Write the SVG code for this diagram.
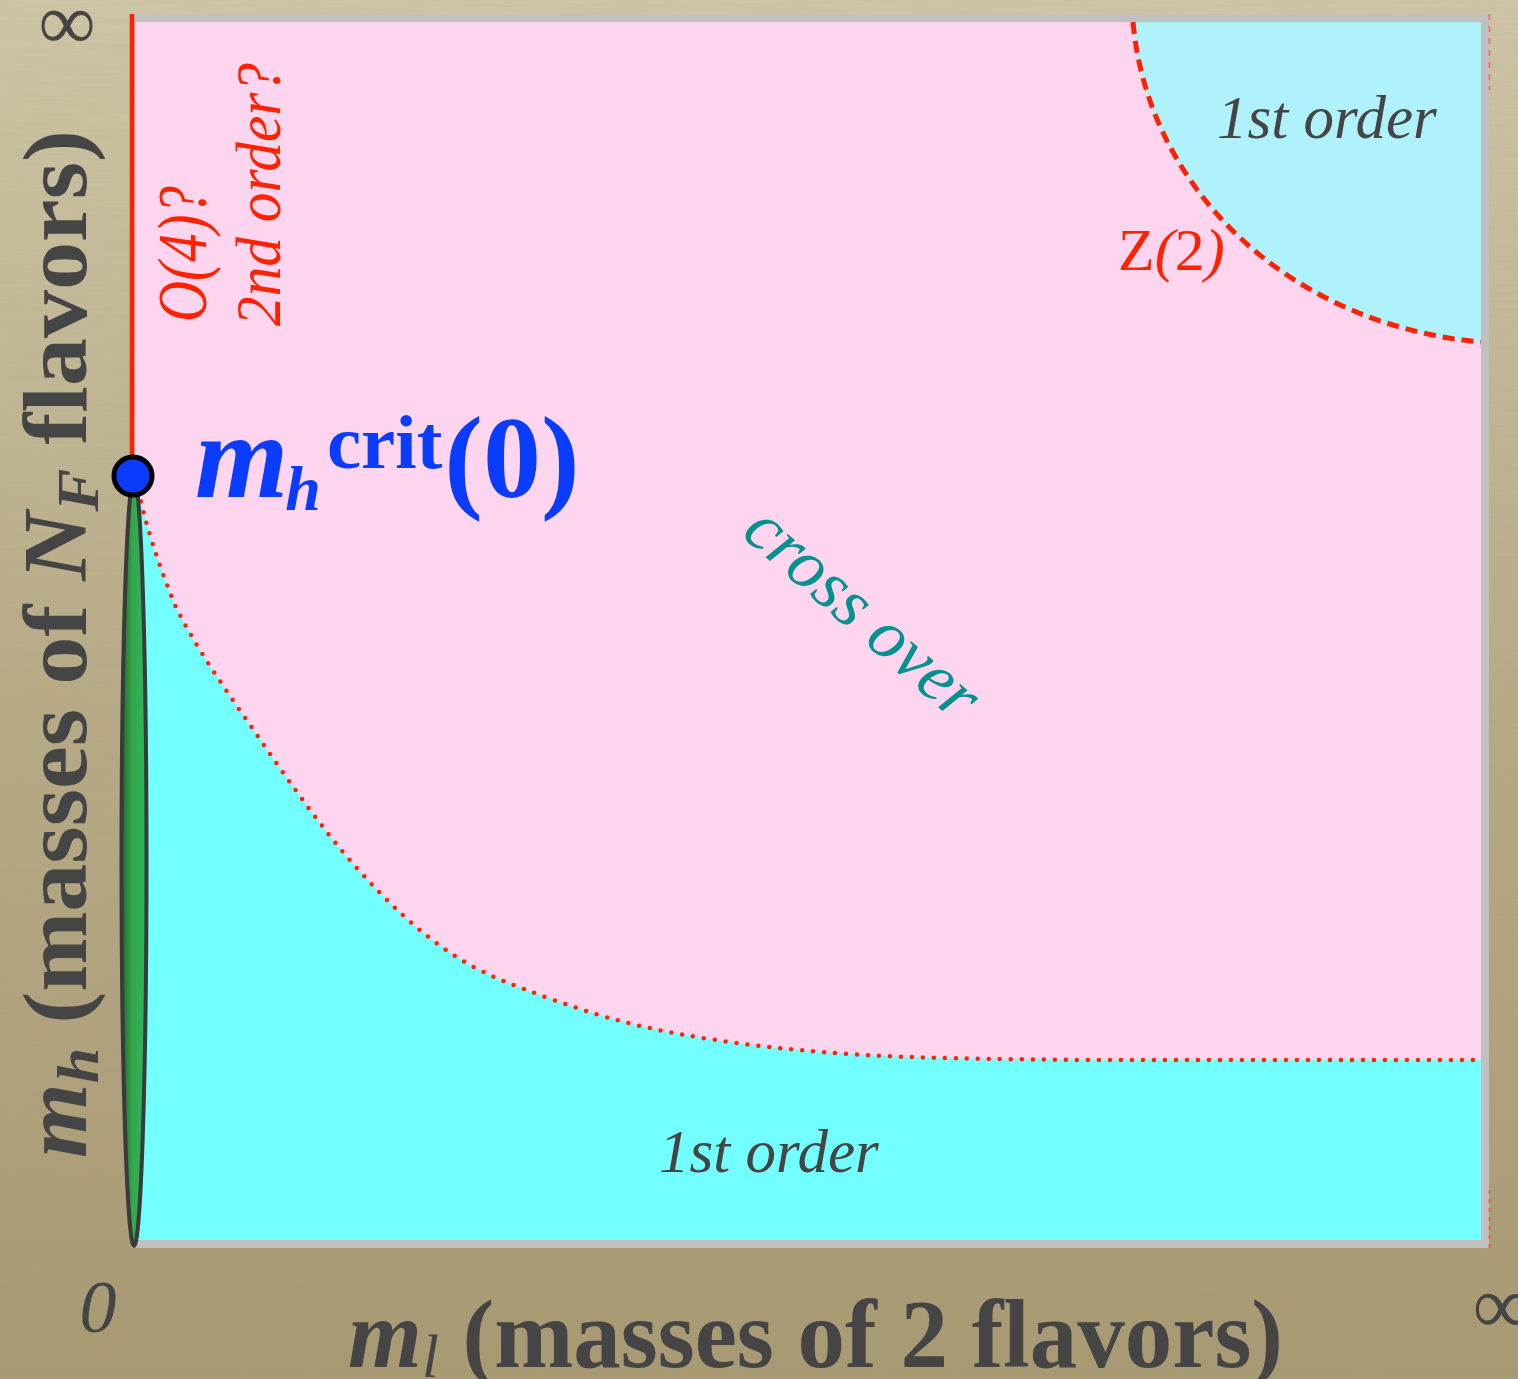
<svg xmlns="http://www.w3.org/2000/svg" width="1518" height="1379" viewBox="0 0 1518 1379">
  <defs>
    <linearGradient id="bg" x1="0" y1="0" x2="0" y2="1">
      <stop offset="0" stop-color="#d0c8a8"/>
      <stop offset="0.5" stop-color="#b9ac88"/>
      <stop offset="1" stop-color="#a89a72"/>
    </linearGradient>
    <linearGradient id="leaf" x1="0" y1="0" x2="1" y2="0">
      <stop offset="0" stop-color="#1d6b2a"/>
      <stop offset="0.45" stop-color="#35a84c"/>
      <stop offset="1" stop-color="#28b860"/>
    </linearGradient>
    <filter id="grain" x="0" y="0" width="100%" height="100%">
      <feTurbulence type="fractalNoise" baseFrequency="0.012 0.25" numOctaves="3" seed="4"/>
      <feColorMatrix type="matrix" values="0 0 0 0 0.35  0 0 0 0 0.3  0 0 0 0 0.2  0 0 0 0.35 0"/>
    </filter>
  </defs>
  <style>
    .serif { font-family: "Liberation Serif", "Times New Roman", serif; }
    .axis { fill: #454545; font-weight: bold; }
    .tick { fill: #454545; }
    .redlbl { fill: #ff2200; font-style: italic; }
    .order { fill: #454545; font-style: italic; font-size: 61px; }
    .dotted { fill: none; stroke: #ff2200; stroke-width: 4.5; stroke-linecap: round; stroke-dasharray: 0 11; }
    .dashed { fill: none; stroke: #ff2200; stroke-width: 5; stroke-dasharray: 12 7; }
  </style>

  <!-- background -->
  <rect x="0" y="0" width="1518" height="1379" fill="url(#bg)"/>
  <rect x="0" y="0" width="1518" height="1379" filter="url(#grain)" opacity="0.5"/>

  <!-- plot frame -->
  <g id="frame">
    <rect x="131" y="14" width="1358" height="1234" fill="#c0c0c0"/>
    <rect x="135" y="22" width="1346" height="1218" fill="#fdd5ef"/>
  </g>

  <!-- regions -->
  <g id="region-first-order-bottom">
    <path d="M137,480 C142,515 157,560 174,603 C194.3,646 228.8,694.2 259,738 C289.2,781.8 323.3,830.3 355,866 C386.7,901.7 416.3,929.8 449,952 C481.7,974.2 513.5,985.5 551,999 C588.5,1012.5 624.3,1023.8 674,1033 C723.7,1042.2 779.8,1049.5 849,1054 C918.2,1058.5 983.7,1059 1089,1060 L1481,1060 L1481,1240 L135,1240 Z" fill="#73ffff"/>
  </g>
  <g id="region-first-order-top">
    <path d="M1133,22 C1148,190 1290,325 1481,342 L1481,22 Z" fill="#b0f2fc"/>
  </g>

  <!-- boundary lines -->
  <g id="connectors">
    <path class="dotted" d="M137,480 C142,515 157,560 174,603 C194.3,646 228.8,694.2 259,738 C289.2,781.8 323.3,830.3 355,866 C386.7,901.7 416.3,929.8 449,952 C481.7,974.2 513.5,985.5 551,999 C588.5,1012.5 624.3,1023.8 674,1033 C723.7,1042.2 779.8,1049.5 849,1054 C918.2,1058.5 983.7,1059 1089,1060 L1481,1060"/>
    <path class="dashed" d="M1133,22 C1148,190 1290,325 1481,342"/>
    <line x1="132" y1="14" x2="132" y2="476" stroke="#ff2200" stroke-width="4.5"/>
    <line x1="1489.5" y1="14" x2="1489.5" y2="90" stroke="#ff3a1a" stroke-width="2" stroke-dasharray="6 6" opacity="0.5"/>
    <line x1="1489.5" y1="1190" x2="1489.5" y2="1248" stroke="#ff3a1a" stroke-width="2" stroke-dasharray="4 5" opacity="0.6"/>
  </g>

  <!-- green ellipse on the m_l = 0 axis -->
  <g id="chiral-line">
    <ellipse cx="134" cy="862" rx="12.5" ry="384" fill="url(#leaf)" stroke="#3a3a3a" stroke-width="4"/>
  </g>

  <!-- critical point -->
  <g id="critical-point">
    <circle cx="133" cy="476" r="19" fill="#0a3cff" stroke="#000" stroke-width="5"/>
    <text class="serif" x="195" y="497" fill="#0a3cff" font-weight="bold"><tspan font-style="italic" font-size="120">m</tspan><tspan font-style="italic" font-size="64" dx="-3" dy="13">h</tspan><tspan font-size="77" dx="6" dy="-42">crit</tspan><tspan font-size="116" dx="2" dy="29">(0)</tspan></text>
  </g>

  <!-- region labels -->
  <g id="labels">
    <text class="serif order" x="1217" y="138">1st order</text>
    <text class="serif order" x="659" y="1172">1st order</text>
    <text class="serif" x="1118" y="270" fill="#ff2200" font-size="60">Z<tspan font-style="italic">(</tspan>2<tspan font-style="italic">)</tspan></text>
    <text class="serif" transform="translate(740,535) rotate(41)" fill="#069191" font-style="italic" font-size="70">cross over</text>
    <text class="serif redlbl" transform="translate(206,322) rotate(-90)" font-size="70" textLength="136" lengthAdjust="spacingAndGlyphs">O(4)?</text>
    <text class="serif redlbl" transform="translate(280,326) rotate(-90)" font-size="64" textLength="263" lengthAdjust="spacingAndGlyphs">2nd order?</text>
  </g>

  <!-- axes labels -->
  <g id="axes">
    <text class="serif tick" x="98" y="1332" font-size="74" font-style="italic" text-anchor="middle">0</text>
    <text class="serif tick" x="1502" y="1333" font-size="82" text-anchor="middle">∞</text>
    <text class="serif tick" x="67" y="49" font-size="80" text-anchor="middle">∞</text>
    <text class="serif axis" x="348" y="1367" font-size="97" textLength="935" lengthAdjust="spacingAndGlyphs"><tspan font-style="italic">m</tspan><tspan font-style="italic" font-weight="normal" font-size="62" dy="10">l</tspan><tspan dy="-10"> (masses of 2 flavors)</tspan></text>
    <text class="serif axis" transform="translate(86,1158) rotate(-90)" font-size="90" textLength="1028" lengthAdjust="spacingAndGlyphs"><tspan font-style="italic">m</tspan><tspan font-style="italic" font-size="60" dy="12">h</tspan><tspan dy="-12"> (masses of </tspan><tspan font-style="italic">N</tspan><tspan font-style="italic" font-size="60" dy="12">F</tspan><tspan dy="-12"> flavors)</tspan></text>
  </g>
</svg>
